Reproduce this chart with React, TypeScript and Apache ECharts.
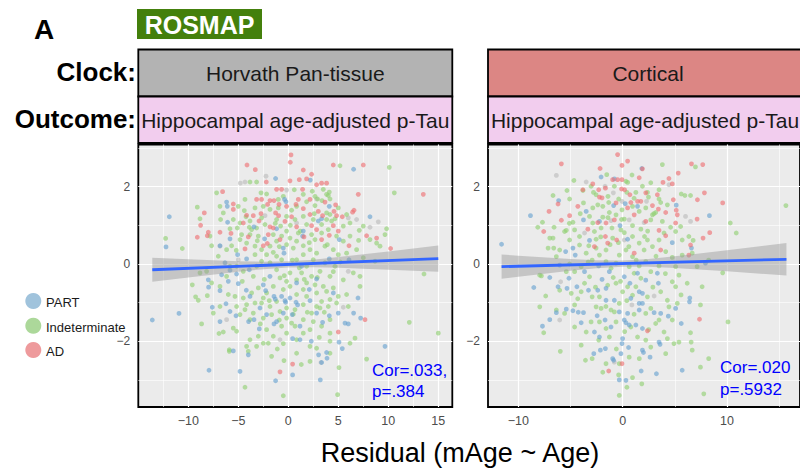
import React, { useEffect, useRef } from "react";
import * as echarts from "echarts";

const FONT = '"Liberation Sans", Arial, Helvetica, sans-serif';

// ---------- DATA ----------
const groupNames = ["PART", "Indeterminate", "AD"];

// Left panel: Horvath Pan-tissue
const leftAD = [[0.27,2.82],[0.2,2.63],[-4.13,2.56],[-3.3,2.44],[4.5,2.56],[7.5,2.56],[1.5,2.43],[2.33,2.32],[0.17,2.15],[1.1,2.18],[1.83,2.2],[-2.2,2.12],[2.83,2.05],[3.33,2.09],[3.83,2.09],[-1.17,1.93],[-0.67,1.93],[1.43,1.93],[13.5,1.8],[-6.57,1.87],[7,1.8],[-3.17,1.67],[-2.67,1.67],[-1.83,1.64],[-1.43,1.64],[2.17,1.67],[-5.5,1.55],[-2.07,1.54],[0.77,1.54],[-0.17,1.49],[1.5,1.43],[4.73,1.53],[6.57,1.39],[6.43,1.34],[-8.4,1.32],[-5.5,1.41],[-3.5,1.25],[-2.73,1.3],[-1.27,1.32],[-0.97,1.25],[0.33,1.22],[2.17,1.28],[3.43,1.25],[4.83,1.25],[5.4,1.22],[-8.77,1],[-4.5,1.06],[-2.93,1.11],[-1.83,0.96],[-1.5,0.93],[2.33,0.99],[2.83,0.89],[4.5,0.99],[-8,0.82],[-8.1,0.73],[-6.83,0.82],[-5.73,0.79],[-9.1,0.69],[-4,0.7],[1.57,0.7],[4.1,0.74],[5,0.85],[7.83,0.73],[8.83,0.67],[-2.5,0.47],[-2.1,0.53],[6.07,0.47],[10.23,0.4],[7.67,-1.44],[5,-1.76],[0.43,-2.59],[-0.83,-2.79],[3,1.36],[1,1.67],[-4.17,1.26],[-0.33,1.1],[0.83,0.96],[3.33,0.63],[-0.83,0.63],[-4.33,0.39],[4.57,1.36],[3.67,1.6],[-0.93,1.54],[-2,0.76]];
const leftPART = [[6.53,2.45],[-1.27,2.21],[2.2,2.17],[-0.37,1.67],[-0.23,1.61],[-11.9,1.22],[-12.23,0.44],[-6.17,1.6],[-6.1,1.49],[-6.07,1.08],[-6.83,0.47],[-5.83,0.65],[-3.43,0.96],[-2.37,0.65],[-1.17,0.91],[1.5,0.85],[1.43,0.72],[3,1.11],[3.33,1.17],[4.1,1.49],[5.1,0.63],[8.17,1.22],[-0.5,0.41],[-0.43,0.28],[-4.17,0.13],[-6.33,0.03],[-5.07,0.24],[4.1,0.13],[6.07,0.11],[-5.83,-0.16],[-5.17,-0.26],[-6.67,-0.28],[-8,-0.41],[-5,-0.51],[-6,-0.45],[-1.83,-0.32],[0.83,-0.49],[2.83,-0.39],[-7.97,-0.6],[-6.83,-0.69],[-4.2,-0.68],[-2.27,-0.69],[-1.43,-0.84],[-1.3,-0.91],[-0.33,-0.95],[-0.27,-0.99],[0.77,-0.99],[0.93,-1.06],[2.17,-0.95],[4.5,-0.75],[6.97,-0.88],[-6.23,-1.03],[-7.6,-1.12],[-5.83,-1.23],[-5.23,-1.34],[-3.97,-1.49],[-3.43,-1.44],[-2.83,-1.14],[-2.17,-1.31],[-1.43,-1.55],[-1.17,-1.49],[-0.5,-1.27],[0.4,-1.31],[2.83,-1.27],[3.43,-1.51],[4.1,-1.34],[5.67,-1.53],[6,-1.55],[7.23,-1.4],[6.53,-1.27],[-10.93,-1.28],[-13.6,-1.45],[-6.83,-1.49],[-2.9,-1.68],[0.43,-1.93],[1.17,-1.96],[2.3,-2],[5.07,-2.02],[5.4,-2.19],[9.67,-2.13],[-5.5,-2.25],[-4,-2.35],[3.03,-2.35],[3.83,-2.29],[3.33,-2.55],[3.87,-2.44],[-7.93,-2.75],[-4.83,-2.78],[0.43,-2.87],[-1.27,-3.02],[3.2,-3],[1.17,-1.61],[2.1,-0.66],[-3.9,-0.15],[-2.5,-0.54],[1.33,-0.06],[0.17,-0.88],[5,-1.27],[-3.83,-0.84],[-0.67,-0.84]];
const leftOther = [[-2.23,2.27],[-4.8,2.09],[-4.33,2.12],[-0.17,1.91],[2.83,1.68],[6,1.19],[6.83,1.15],[8.17,0.95],[9,1.09],[-6.83,0.46],[6,-0.19],[5.5,-1.12],[-0.83,-1.96],[3.27,-2.55],[-2.33,1.25],[-5,0.11],[0.83,1.06],[-6.17,-1.44]];
const leftIndet = [[5.17,2.54],[10.1,2.5],[-3.83,2.12],[-3.17,2.12],[0.6,1.92],[2.4,1.88],[10.6,1.84],[-7.17,1.84],[-2.73,1.84],[-2.17,1.81],[3.83,1.8],[4,1.77],[1.83,1.61],[2.93,1.68],[3.37,1.64],[-9.1,1.47],[-8.83,1.17],[-12.27,0.66],[-10.6,0.4],[-6.77,1.15],[-7.83,0.72],[-7.67,0.47],[-4.4,1.38],[-4.23,1.22],[-5.1,0.93],[-5.83,0.91],[-4.67,0.76],[-3.67,0.89],[-3,0.72],[-2.33,1.02],[-1.17,1.15],[-0.77,0.98],[-0.17,0.85],[0.67,1.15],[1,0.8],[1.83,1.02],[2.67,0.63],[3.33,0.8],[3.83,1.15],[4.17,1.28],[4.33,1.11],[5.5,0.98],[6.17,0.72],[7.1,0.87],[7.03,0.61],[8.83,0.54],[9.83,0.91],[9.67,0.76],[4.17,1.68],[5,1.45],[4.67,1.17],[0.33,1.39],[0.83,1.49],[2.67,1.51],[-1.83,1.41],[-2.67,1.19],[-3.83,1.11],[-4.83,0.63],[-4.17,0.54],[-3.33,0.46],[-2.67,0.37],[-1.83,0.46],[-1.17,0.59],[-0.17,0.5],[0.5,0.41],[1.5,0.47],[2.17,0.37],[2.83,0.28],[3.67,0.46],[4.5,0.37],[5,0.24],[5.83,0.28],[6.83,0.37],[7.5,0.16],[8.67,0.07],[13.57,-0.26],[15,-1.79],[12.1,-1.51],[7.83,-2.46],[-4.33,-3.19],[-0.5,-3.41],[4.93,-3.38],[5.07,-2.68],[-5.9,-2.26],[-8.67,-1.55],[-6.93,-1.8],[-6.5,-1.76],[-9.6,-0.54],[-9.27,-0.85],[-9,-0.94],[-8.1,-0.82],[-7.67,-0.49],[-6.83,-0.58],[-6.17,-0.32],[-5.83,-0.06],[-5.17,-0.06],[-4.5,-0.19],[-3.5,-0.32],[-3.17,-0.06],[-2.67,0.07],[-1.83,0.03],[-1.17,-0.15],[-0.67,0.11],[0.17,-0.23],[0.83,0.11],[1.33,-0.23],[1.83,-0.06],[2.33,-0.32],[3.17,-0.19],[3.67,0.03],[4.17,-0.32],[4.67,-0.06],[5.5,-0.41],[6.5,-0.23],[7.17,-0.32],[7.17,-0.58],[4.5,-0.62],[3.5,-0.58],[2.83,-0.75],[1.5,-0.66],[0.83,-0.79],[0.17,-0.58],[-0.5,-0.66],[-1.5,-0.58],[-2.17,-0.75],[-3,-0.62],[-3.67,-0.75],[-4.5,-0.88],[-5.33,-0.84],[-6,-0.79],[-5.17,-1.1],[-4.33,-1.18],[-3.5,-1.27],[-2.67,-1.01],[-1.83,-1.1],[-0.83,-1.23],[-0.17,-1.14],[0.67,-1.18],[1.5,-1.05],[2.33,-1.27],[3.17,-1.14],[4,-1.1],[4.83,-1.01],[6,-1.1],[4.17,-1.44],[3.33,-1.61],[2.17,-1.7],[1.5,-1.79],[0.67,-1.61],[-0.17,-1.79],[-0.67,-1.61],[-1.5,-1.87],[-2.17,-1.7],[-3,-1.87],[-3.83,-1.96],[-4.17,-2.13],[-4,-2.26],[-2.5,-2.05],[-1.67,-2.39],[-0.43,-2.5],[0.83,-2.31],[2.17,-2.52],[2.83,-2.18],[4.17,-2],[6.17,-2.05],[6.67,-1.92],[4.17,-1.79],[-5.9,-2.22],[-5.5,-1.66],[-5.17,-1.74],[-0.5,-2.06],[-6.83,-1.1],[-7.5,-1.27],[-8.17,-0.19],[-8.83,-0.23],[-7,0.2],[-6.17,0.37],[-5.67,0.47],[-1.17,0.2],[1.5,0.24],[2.5,0.11],[-2.17,0.24],[-3.33,0.24],[-0.17,-0.45],[-0.83,-0.36],[0.83,-0.41],[1.83,-0.49],[2.67,-0.54],[3.83,-0.71],[5,-0.84],[5.83,-0.79],[4.17,-0.92],[3.33,-0.97],[1.83,-0.84],[-1.17,-0.97],[-2.5,-0.88],[-3.33,-1.01],[-4.17,-1.05],[-4.83,-1.31],[-3.83,-1.44],[-2.5,-1.4],[-1.67,-1.31],[-0.17,-1.4],[1.5,-1.44],[2.5,-1.49],[2.83,-1.1],[0.33,-1.53],[-2,-2.05],[-3.17,-2.13],[4.17,-2.31],[2.17,-2.13],[0.83,-1.96],[-1,1.67],[1.5,1.8],[2.67,1.75],[3.5,1.93],[4.1,1.86],[-3.33,1.45],[-2.5,1.49],[-1,1.45],[-0.17,1.23],[1.5,1.23],[2.5,1.15],[3.33,1.02],[4,0.89],[4.83,0.72],[5.5,0.59],[-3.83,0.76],[-3.17,0.93],[-1.5,0.76],[-0.67,0.72],[0.17,0.67],[0.83,0.59],[2.33,0.76],[-5.5,1.15],[-4.83,1.06],[-5,1.49],[-4.33,1.67],[-6.83,1.49],[-6.5,1.32],[3.83,1.32],[5.83,1.28],[6.17,1.06],[7.5,0.98],[8.17,0.63],[9.17,0.46],[-1.5,0.3],[-0.9,0.45],[0.4,0.1],[1.1,-0.1],[-0.4,-0.3],[1.6,-0.4],[2.1,0.55],[-2.4,-0.4],[-3.1,0.6],[-1.9,-0.95],[0.5,-1.3],[1.9,-1.25],[-0.9,-1.45],[-2.8,-1.55],[3.6,-1.25],[3.9,0.5],[-4.6,-0.45],[-3.9,0.95],[0.2,1.0],[1.2,0.85],[-1.3,1.05],[2.6,1.3],[-0.5,1.75],[4.5,-0.2],[5.2,0.05],[-5.2,0.35],[2.9,-0.35],[-1.1,-2.2],[1.3,-2.6],[3.1,-1.9]];

// Right panel: Cortical
const rightAD = [[-0.48,2.83],[-5.87,2.59],[6.6,2.59],[7.68,2.57],[-0.06,2.55],[0.48,2.66],[-2.16,2.47],[1.9,2.46],[5.33,2.35],[4.44,2.21],[3.87,2.11],[4.76,2.07],[1.59,2.23],[-0.95,2.18],[-0.48,2.18],[-0.06,2.18],[-2.86,2.07],[-3.81,1.92],[-2.29,1.92],[-1.65,1.96],[-0.1,1.94],[0.19,1.92],[-6.19,1.55],[-7.05,1.36],[-2.22,1.73],[-1.97,1.71],[0.7,1.79],[0.79,1.59],[1.43,1.62],[1.75,1.62],[-0.63,1.58],[2.86,1.51],[3.43,1.42],[4.86,1.66],[7.17,1.66],[7.84,1.84],[9.59,1.58],[5.14,1.39],[5.24,1.27],[5.08,1.06],[4.13,1.33],[7.14,1.16],[-5.08,1.25],[-5.87,1.13],[-7.56,0.84],[-3.33,0.9],[-2.38,1.07],[-1.59,1.06],[-0.79,1.14],[1.11,1.27],[2.22,1.1],[3.49,0.87],[4.13,0.73],[6.51,0.49],[6.35,0.23],[7.71,0.67],[8.35,0.81],[1.11,0.28],[3.65,0.36],[-2.7,0.45],[-1.43,0.54],[-0.57,0.62],[-1.65,0.71],[7.37,-1.43],[2.38,-1.73],[-0.06,-2.58],[-1.33,-2.77],[-4.29,1.49],[0.48,1.45],[2.22,1.84],[3.33,1.79]];
const rightPART = [[-11.6,0.51],[-8.83,1.25],[-6.13,1.64],[1.84,2.47],[-2.06,2.25],[-0.79,2.2],[-3.49,1.36],[-3.75,1.14],[-0.86,1.51],[0.25,1.56],[1.43,1.49],[5.14,1.52],[8.32,1.25],[-2.22,1.1],[-0.25,0.99],[0.48,0.64],[4.76,0.55],[6.6,0.41],[-4.76,0.41],[-5.46,0.32],[-3.17,0.61],[-4.54,0.23],[-6.03,-0.03],[-6.98,-0.35],[-5.14,-0.37],[-2.29,-0.05],[-1.97,-0.4],[0.16,-0.33],[0.7,-0.5],[1.43,-0.24],[3.33,-0.24],[3.43,-0.5],[7.94,0.02],[-8.51,-0.61],[-6.19,-0.59],[-5.33,-0.63],[-4.38,-0.59],[-3.27,-0.68],[-2.38,-0.68],[-1.59,-0.63],[-0.79,-0.94],[-1.59,-0.94],[0.79,-0.89],[1.59,-0.72],[1.9,-0.76],[1.59,-1.02],[1.9,-1.02],[3.02,-1.26],[3.65,-1.28],[4.38,-1.35],[5.08,-1.15],[6.44,-0.88],[6.41,-0.98],[5.62,-1.54],[-4.76,-1.21],[-4.25,-1.25],[-3.75,-1.26],[-3.97,-1.52],[-2.44,-1.34],[-1.68,-1.45],[-0.32,-1.24],[0.16,-1.45],[0.32,-1.52],[0.63,-1.58],[1.27,-1.58],[1.9,-1.67],[3.49,-2.02],[3.59,-2.08],[-7.68,-1.61],[-6.98,-1.44],[-6.35,-1.26],[-5.4,-1.17],[-2.7,-1.76],[-2.22,-1.89],[0,-1.93],[-0.06,-2.06],[0.57,-2.16],[1.9,-2.23],[2,-2.29],[2.63,-2.41],[-2.13,-2.23],[-1.65,-2.19],[-2.76,-2.32],[-0.16,-2.32],[-0.95,-2.45],[-0.86,-2.49],[1.78,-2.77],[3.24,-2.84],[5.71,-2.75],[-0.32,-3],[0.32,-3.01],[0.48,-1.28],[-1.27,-0.2],[-3.65,-0.2],[2.22,-0.42],[-1.11,-1.63],[1.59,-1.19]];
const rightOther = [[-6.35,2.29],[-3.49,2.12],[-1.68,2.01],[-0.89,1.84],[2.29,1.62],[-0.06,1.62],[-1.11,1.12],[0.16,0.62],[-3.65,0.8],[0.63,1.14],[6.03,1.23],[6.51,1.1],[4.44,2.05],[-5.94,-0.46],[3.02,-0.83],[0.89,-1.06],[-6.03,-1.45],[-0.79,-2.54],[2.06,1.07]];
const rightIndet = [[3.81,2.57],[6.98,2.51],[-1.52,2.31],[-4.67,2.16],[-5.33,1.9],[-6.67,1.77],[-5.08,1.68],[-3.75,1.58],[-2.79,1.85],[-2.54,1.79],[-1.4,1.75],[-1.33,1.59],[-0.38,1.68],[0.41,1.85],[0.48,2.11],[1.27,1.85],[2.38,1.85],[2.48,1.73],[3.49,1.68],[3.65,1.59],[4.29,1.53],[5.62,1.81],[5.97,1.77],[6.51,1.77],[-8.13,0.95],[-7.68,1.08],[-6.57,0.95],[-6.67,0.67],[-6.6,0.41],[-5.4,0.87],[-4.76,1.08],[-4.13,0.71],[-4.06,1.3],[-3.17,1.23],[-2.86,1.06],[-2.7,0.84],[-2.54,0.64],[-2.06,0.93],[-1.9,1.21],[-1.27,1.33],[-0.63,1.27],[0.16,1.16],[-0.16,0.88],[-1.02,0.93],[0.95,0.99],[1.75,0.9],[2.1,0.71],[2.7,1.14],[3.17,1.33],[3.81,1.1],[4.6,0.95],[5.08,0.84],[5.56,0.97],[6.76,0.61],[6.67,0.28],[10.32,1.06],[10.89,0.8],[15.65,1.51],[9.59,-0.23],[10.1,-1.5],[8.25,-2.45],[7.46,-2.67],[7.78,-3.36],[-0.32,-3.4],[0.41,-3.19],[-0.38,-2.87],[0.95,-2.94],[1.84,-3.1],[-3.56,-2.49],[-5.97,-2.26],[-3.97,-2.1],[-7.94,-1.11],[-7.56,-1.78],[-7.78,-0.31],[-7.37,-0.83],[-6.03,-0.68],[-5.4,-0.2],[-4.92,-0.76],[-4.6,-1.06],[-3.97,-0.72],[-3.65,-0.5],[-3.17,-0.33],[-2.92,-0.85],[-2.54,-1.11],[-2.06,-1.15],[-2.22,-1.5],[-2.29,-1.97],[-1.59,-1.67],[-1.27,-1.89],[-0.79,-1.24],[-0.32,-1.02],[0,-0.72],[0.48,-0.59],[0.95,-0.81],[1.27,-0.59],[1.75,-0.37],[2.38,-0.85],[2.7,-1.15],[3.17,-1.54],[3.97,-1.76],[4.29,-1.93],[4.92,-2.06],[5.4,-2.02],[6.51,-1.78],[6.57,-2.02],[7.46,-1.06],[7.14,-0.07],[5.08,-0.07],[5.4,-0.29],[4.76,-0.46],[3.65,-0.72],[4.29,-0.94],[4.44,-1.11],[5.24,-1.02],[3.49,-0.05],[2.7,-0.2],[2.22,0.06],[1.59,-0.05],[0.95,0.19],[0.32,0.36],[-0.32,0.23],[-0.63,0.02],[-1.11,-0.11],[-1.59,0.06],[-2.22,0.23],[-2.92,0.1],[-3.49,0.28],[-3.97,-0.07],[-4.6,-0.2],[-5.08,0],[-6.03,0.36],[-6.35,0.19],[-7.14,0.41],[-6.98,0.67],[-7.94,-0.29],[0.63,-0.07],[1.11,-0.24],[2.06,0.36],[2.86,0.45],[4.13,0.32],[4.76,0.17],[5.71,0.23],[6.35,0.71],[2.38,0.62],[1.59,0.54],[0.95,0.71],[0.16,0.81],[-0.95,0.67],[-1.59,0.36],[-2.54,0.41],[-3.24,0.47],[-4.13,0.49],[-5.08,0.62],[-4.6,0.88],[2.22,1.45],[2.86,1.27],[1.59,1.36],[0.95,1.49],[-0.06,1.4],[-1.9,1.49],[-2.86,1.45],[-2.38,1.53],[-0.79,2.01],[0.32,2.14],[1.9,2.01],[2.7,2.1],[3.49,1.92],[-3.02,2.01],[-5.56,0.84],[3.97,0.8],[5.71,0.62],[3.49,0.62],[-1.11,-1.19],[-0.63,-1.5],[0.79,-1.63],[1.43,-1.89],[2.22,-1.97],[0.63,-2.41],[-0.32,-2.58],[-1.59,-2.58],[-2.92,-2.45],[-3.49,-1.76],[-4.6,-1.63],[-3.02,-1.5],[-5.56,-1.28],[-6.35,-1.19],[-2.22,-0.85],[-1.43,-0.55],[-0.63,-0.5],[2.22,-1.28],[3.49,-1.45],[4.76,-1.45],[2.7,-2.15],[4.13,-2.32],[6.67,-2.23],[5.08,-0.59],[6.19,-0.5],[7.62,-0.59],[8.25,0.1],[-1.2,0.5],[-0.4,0.55],[0.6,0.45],[1.3,0.1],[-0.9,-0.35],[0.4,-0.95],[1.1,-1.3],[-1.6,-1.1],[-2.6,-0.6],[2.9,-0.6],[3.2,0.2],[-3.3,0.05],[-0.1,1.15],[1.1,1.7],[-1.4,1.2],[2.4,0.85],[-2.1,0.7],[0.2,-1.75],[-0.6,-2.2],[1.6,-2.45],[4.1,-0.25],[-4.3,-0.9],[-5.1,1.05],[5.6,-0.8],[-0.2,-0.45],[2.5,-1.7],[-1.9,-2.8],[0.9,2.3],[-3.8,1.9],[3.0,1.3]];

// regression fits and 95% bands
const leftFitX = [-13.6, 15];
const leftFitY = [-0.15, 0.14];
const leftBandX = [-13.6, -10, -5, -2.5, 0, 2.5, 5, 10, 15];
const leftBandLo = [-0.46, -0.35, -0.2, -0.134, -0.092, -0.084, -0.1, -0.15, -0.2];
const leftBandHi = [0.16, 0.12, 0.07, 0.06, 0.068, 0.11, 0.18, 0.32, 0.48];

const rightFitX = [-11.6, 15.7];
const rightFitY = [-0.07, 0.12];
const rightBandX = [-11.6, -10, -5, -2.5, 0, 2.5, 5, 10, 15.7];
const rightBandLo = [-0.385, -0.331, -0.175, -0.11, -0.069, -0.075, -0.105, -0.191, -0.3];
const rightBandHi = [0.245, 0.213, 0.127, 0.097, 0.091, 0.131, 0.197, 0.353, 0.54];

const leftXTicks = [-10, -5, 0, 5, 10, 15];
const leftXMinor = [-12.5, -7.5, -2.5, 2.5, 7.5, 12.5];
const rightXTicks = [-10, 0, 10];
const rightXMinor = [-5, 5, 15];
const yTicks = [-2, 0, 2];
const yMinor = [-3, -1, 1, 3];

const leftStats = ["Cor=.033,", "p=.384"];
const rightStats = ["Cor=.020", "p=.5932"];

// ---------- STYLE ----------
const COLORS: Record<string, string> = {
  PART: "rgba(105,162,208,0.8)",
  Indeterminate: "rgba(145,208,115,0.8)",
  AD: "rgba(238,112,115,0.8)",
  Other: "rgba(188,188,188,0.8)",
};
const LEGEND_COLORS: Record<string, string> = {
  PART: "#A0C3DC",
  Indeterminate: "#ACD89A",
  AD: "#EE9A9C",
};

const fmt = (v: number) => (v < 0 ? "\u2212" + Math.abs(v) : String(v));

function gridLines(ax: number, xMajor: number[], xMinor: number[]) {
  const data: any[] = [];
  xMinor.forEach((v) => data.push({ xAxis: v, lineStyle: { width: 0.6 } }));
  yMinor.forEach((v) => data.push({ yAxis: v, lineStyle: { width: 0.6 } }));
  xMajor.forEach((v) => data.push({ xAxis: v, lineStyle: { width: 1.2 } }));
  yTicks.forEach((v) => data.push({ yAxis: v, lineStyle: { width: 1.2 } }));
  return {
    type: "line",
    xAxisIndex: ax,
    yAxisIndex: ax,
    data: [],
    z: 1,
    silent: true,
    markLine: {
      z: 1,
      silent: true,
      symbol: ["none", "none"],
      label: { show: false },
      lineStyle: { color: "#FFFFFF", type: "solid" },
      emphasis: { disabled: true },
      data,
    },
  };
}

function scatter(name: string, ax: number, data: number[][]) {
  return {
    type: "scatter",
    name,
    xAxisIndex: ax,
    yAxisIndex: ax,
    data,
    symbolSize: 4.8,
    z: 3,
    clip: false,
    itemStyle: { color: COLORS[name] },
    silent: true,
  };
}

function band(ax: number, bx: number[], lo: number[], hi: number[]) {
  return {
    type: "custom",
    xAxisIndex: ax,
    yAxisIndex: ax,
    z: 4,
    silent: true,
    data: [[bx[0], lo[0]]],
    renderItem: (_p: any, api: any) => {
      const pts: number[][] = [];
      for (let i = 0; i < bx.length; i++) pts.push(api.coord([bx[i], hi[i]]));
      for (let i = bx.length - 1; i >= 0; i--) pts.push(api.coord([bx[i], lo[i]]));
      return {
        type: "polygon",
        shape: { points: pts },
        style: { fill: "rgba(150,150,150,0.45)" },
      };
    },
  };
}

function fit(ax: number, fx: number[], fy: number[]) {
  return {
    type: "line",
    xAxisIndex: ax,
    yAxisIndex: ax,
    z: 5,
    silent: true,
    symbol: "none",
    data: fx.map((x, i) => [x, fy[i]]),
    lineStyle: { color: "#3366FF", width: 2.8 },
  };
}

function xAxis(gi: number, min: number, max: number, ticks: number[]) {
  return {
    type: "value",
    gridIndex: gi,
    min,
    max,
    splitLine: { show: false },
    axisLine: { show: false },
    axisTick: { show: true, customValues: ticks, length: 4, lineStyle: { color: "#333", width: 1 } },
    axisLabel: { customValues: ticks, formatter: fmt, color: "#4D4D4D", fontSize: 12.5, fontFamily: FONT, margin: 7 },
  };
}

function yAxis(gi: number) {
  return {
    type: "value",
    gridIndex: gi,
    min: -3.7,
    max: 3.09,
    splitLine: { show: false },
    axisLine: { show: false },
    axisTick: { show: true, customValues: yTicks, length: 4, lineStyle: { color: "#333", width: 1 } },
    axisLabel: { customValues: yTicks, formatter: fmt, color: "#4D4D4D", fontSize: 12, fontFamily: FONT, margin: 8 },
  };
}

function strip(x: number, w: number, topColor: string, topText: string) {
  return [
    { type: "rect", shape: { x, y: 49.5, width: w, height: 47 }, style: { fill: topColor, stroke: "#000", lineWidth: 1.8 } },
    { type: "rect", shape: { x, y: 96.5, width: w, height: 46.5 }, style: { fill: "#F2CDEE", stroke: "#000", lineWidth: 1.8 } },
    { type: "text", x: x + w / 2, y: 73, style: { text: topText, font: `21px ${FONT}`, fill: "#1A1A1A", align: "center", verticalAlign: "middle" } },
    { type: "text", x: x + 157, y: 120, style: { text: "Hippocampal age-adjusted p-Tau", font: `21px ${FONT}`, fill: "#1A1A1A", align: "center", verticalAlign: "middle" } },
  ];
}

function legendItems() {
  const ys = [301, 325.7, 350];
  const out: any[] = [];
  groupNames.forEach((n, i) => {
    out.push({ type: "circle", shape: { cx: 33.3, cy: ys[i], r: 8 }, style: { fill: LEGEND_COLORS[n] } });
    out.push({ type: "text", x: 46, y: ys[i] + 1.5, style: { text: n, font: `13px ${FONT}`, fill: "#1A1A1A", align: "left", verticalAlign: "middle" } });
  });
  return out;
}

export default function App() {
  const ref = useRef<HTMLDivElement>(null);
  useEffect(() => {
    if (!ref.current) return;
    const chart = echarts.init(ref.current, undefined, { renderer: "svg" });
    const option: any = {
      animation: false,
      backgroundColor: "#FFFFFF",
      textStyle: { fontFamily: FONT },
      grid: [
        { left: 138.3, top: 144.5, width: 314, height: 262.5, show: true, backgroundColor: "#EBEBEB", borderColor: "#000", borderWidth: 1.8 },
        { left: 488, top: 144.5, width: 314, height: 262.5, show: true, backgroundColor: "#EBEBEB", borderColor: "#000", borderWidth: 1.8 },
      ],
      xAxis: [xAxis(0, -15, 16.4, leftXTicks), xAxis(1, -12.9, 17, rightXTicks)],
      yAxis: [yAxis(0), yAxis(1)],
      series: [
        gridLines(0, leftXTicks, leftXMinor),
        gridLines(1, rightXTicks, rightXMinor),
        scatter("Other", 0, leftOther),
        scatter("Indeterminate", 0, leftIndet),
        scatter("PART", 0, leftPART),
        scatter("AD", 0, leftAD),
        scatter("Other", 1, rightOther),
        scatter("Indeterminate", 1, rightIndet),
        scatter("PART", 1, rightPART),
        scatter("AD", 1, rightAD),
        band(0, leftBandX, leftBandLo, leftBandHi),
        band(1, rightBandX, rightBandLo, rightBandHi),
        fit(0, leftFitX, leftFitY),
        fit(1, rightFitX, rightFitY),
      ],
      graphic: [
        { type: "text", x: 44, y: 29, style: { text: "A", font: `bold 28px ${FONT}`, fill: "#000", align: "center", verticalAlign: "middle" } },
        { type: "rect", shape: { x: 137, y: 9, width: 125, height: 30 }, style: { fill: "#44800C" } },
        { type: "text", x: 199.5, y: 24.5, style: { text: "ROSMAP", font: `bold 25px ${FONT}`, fill: "#FFFFFF", align: "center", verticalAlign: "middle" } },
        { type: "text", x: 136, y: 72, style: { text: "Clock:", font: `bold 26px ${FONT}`, fill: "#000", align: "right", verticalAlign: "middle" } },
        { type: "text", x: 136, y: 118.5, style: { text: "Outcome:", font: `bold 26px ${FONT}`, fill: "#000", align: "right", verticalAlign: "middle" } },
        ...strip(138.3, 314, "#B3B3B3", "Horvath Pan-tissue"),
        ...strip(488, 320, "#DC8684", "Cortical"),
        ...legendItems(),
        { type: "text", x: 372, y: 370, z: 100, style: { text: leftStats[0], font: `17px ${FONT}`, fill: "#0000FF", align: "left", verticalAlign: "middle" } },
        { type: "text", x: 372, y: 391, z: 100, style: { text: leftStats[1], font: `17px ${FONT}`, fill: "#0000FF", align: "left", verticalAlign: "middle" } },
        { type: "text", x: 720, y: 367, z: 100, style: { text: rightStats[0], font: `17px ${FONT}`, fill: "#0000FF", align: "left", verticalAlign: "middle" } },
        { type: "text", x: 720, y: 389.5, z: 100, style: { text: rightStats[1], font: `17px ${FONT}`, fill: "#0000FF", align: "left", verticalAlign: "middle" } },
        { type: "text", x: 460, y: 453, style: { text: "Residual (mAge ~ Age)", font: `27px ${FONT}`, fill: "#000", align: "center", verticalAlign: "middle" } },
      ],
    };
    chart.setOption(option);
    return () => chart.dispose();
  }, []);
  return <div ref={ref} style={{ position: "absolute", left: 0, top: 0, width: 800, height: 468 }} />;
}
